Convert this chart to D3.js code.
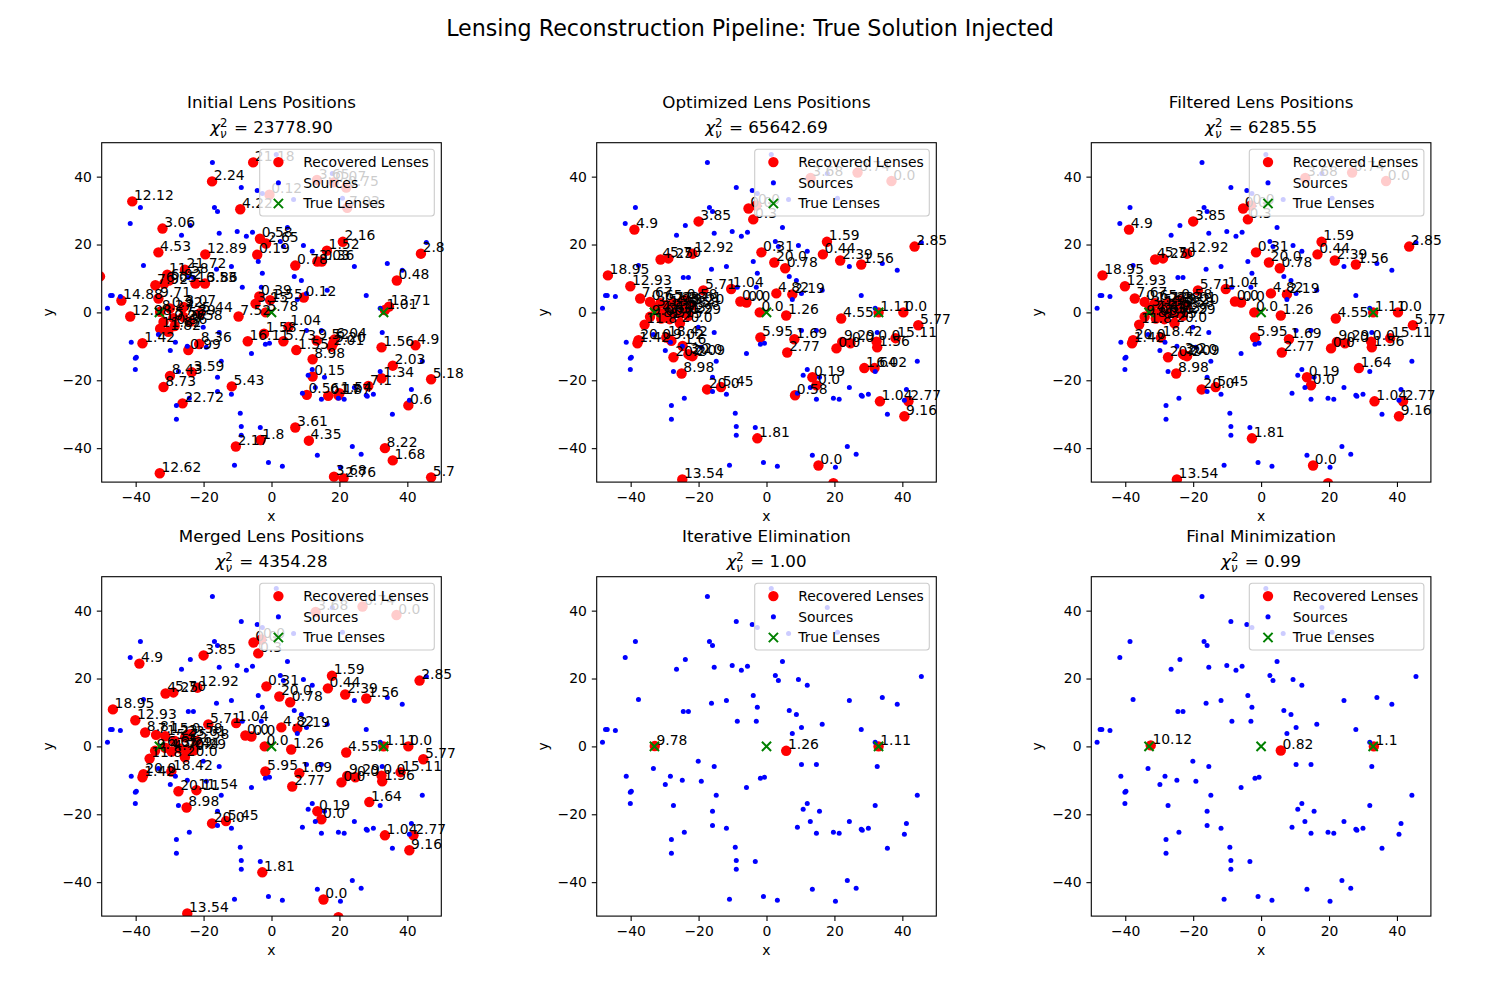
<!DOCTYPE html>
<html>
<head>
<meta charset="utf-8">
<script src="https://cdn.jsdelivr.net/npm/d3@7"></script>
<style>
  body { margin: 0; background: #fff; }
  text { font-family: "DejaVu Sans", sans-serif; fill: #000; }
</style>
</head>
<body>
<div id="chart"></div>
<script>
// background sources, same in every panel
var sources = [
  [1.4,46.5],[-17.4,44.2],[17.9,40.9],[-8.9,36.8],[2.0,38.0],[-4.2,35.9],[-2.7,35.0],[6.5,33.3],[20.9,33.6],
  [-38.6,30.9],[-16.8,30.9],[-15.9,29.7],[-41.6,26.2],[-23.9,25.6],[-26.5,22.7],[-15.4,23.3],[-10.1,23.8],
  [-5.6,23.6],[-7.4,22.4],[4.7,25.0],[2.6,20.9],[3.5,19.4],[9.4,19.7],[12.0,18.0],[45.6,20.6],[-37.7,13.8],
  [-3.9,15.0],[-11.8,13.5],[-16.2,12.7],[-2.7,11.5],[24.4,13.5],[34.1,14.4],[38.5,12.4],[-24.5,10.3],[-23.0,10.3],
  [6.7,10.6],[8.8,9.4],[-8.6,7.4],[-3.0,7.4],[16.4,6.5],[10.3,5.6],[27.9,5.0],[-47.4,5.0],[-46.9,5.0],[-44.5,4.7],
  [7.6,3.8],[-48.3,1.2],[32.0,1.2],[-20.1,-4.4],[-15.4,-5.9],[10.3,-5.3],[14.7,-5.3],[32.6,-5.9],[-33.3,-6.5],
  [-41.3,-8.8],[-28.3,-8.8],[-24.8,-10.0],[-19.2,-10.3],[-29.8,-11.2],[-1.8,-9.4],[-0.6,-9.1],[-5.9,-12.1],
  [-40.1,-13.5],[-39.8,-13.2],[-14.8,-14.4],[44.4,-14.4],[-40.1,-16.8],[-27.4,-17.4],[12.0,-16.8],[10.8,-18.5],
  [15.6,-19.1],[32.0,-17.4],[-15.9,-19.1],[12.9,-22.1],[24.4,-22.1],[41.2,-22.7],[-15.9,-23.3],[-11.8,-24.1],
  [9.1,-23.8],[27.9,-24.4],[28.2,-24.7],[30.0,-24.1],[-24.2,-25.3],[14.7,-25.6],[19.7,-25.3],[21.4,-25.6],
  [40.6,-25.9],[-28.0,-27.4],[35.6,-30.0],[-28.0,-31.5],[-9.2,-29.7],[-8.9,-33.6],[-3.3,-33.9],[-8.9,-36.2],
  [23.8,-39.5],[26.4,-41.8],[13.5,-42.1],[-0.9,-44.2],[-10.9,-45.0],[3.2,-45.3],[20.3,-45.6]
]

var trueLenses = [[-33,0],[0,0],[33,0]]

var initialLenses = [
  [-5.4,44.2,"21.18"],[-17.5,38.6,"2.24"],[-41,32.7,"12.12"],[-0.6,34.7,"0.12"],[13.4,39,"3.65"],[18.3,38.3,"0.07"],
  [22,36.8,"0.75"],[22.3,30.8,"7.03"],[-9.2,30.4,"4.22"],[-32.1,24.7,"3.06"],[-3.4,21.7,"0.58"],[-1.6,20.3,"2.65"],
  [21,20.8,"2.16"],[16.3,18.2,"1.52"],[-4.2,17,"0.19"],[-33.3,17.7,"4.53"],[-19.5,17.1,"12.89"],[44,17.3,"2.8"],
  [7,13.8,"0.78"],[13.5,15,"3.03"],[14.8,15,"0.36"],[36.9,9.4,"0.48"],[-25.5,12.6,"21.72"],[-30.7,11.1,"11.58"],
  [-30.2,9.4,"6.92"],[-34.2,8,"7.92"],[-31.6,8.5,"6.05"],[-22.4,8.5,"16.53"],[-19.6,8.5,"3.86"],[-50.5,10.6,"0.9"],
  [-44.2,3.5,"14.88"],[-33.3,4.1,"9.71"],[-41.6,-1.2,"12.98"],[-9.7,-1.2,"7.52"],[-1.7,0,"5.78"],[-3.6,4.7,"0.39"],
  [-4.7,2.6,"3.15"],[-0.4,3.6,"1.55"],[9.5,4.4,"0.12"],[34.6,1.7,"13.71"],[33.4,0.7,"1.01"],[5,-4.3,"1.04"],
  [-2.2,-6.3,"1.58"],[-7,-8.5,"16.11"],[3.5,-8.5,"5.73"],[7.3,-11.1,"1.55"],[13.3,-8.3,"9.52"],[18.2,-9.1,"5.20"],
  [17.7,-10.1,"2.01"],[18.5,-8,"6.04"],[12.1,-13.8,"8.98"],[12.1,-18.9,"0.15"],[-38,-9.1,"1.42"],[-21.3,-9.3,"8.36"],
  [-24.5,-11.1,"0.99"],[32.4,-10.3,"1.56"],[42.4,-9.7,"4.9"],[35.7,-15.7,"2.03"],[32.4,-19.4,"1.34"],[28.5,-21.7,"7.1"],
  [47,-19.7,"5.18"],[40.3,-27.4,"0.6"],[-29.9,-18.7,"8.43"],[-23.5,-17.6,"3.59"],[-31.8,-22,"8.73"],[-26.2,-26.8,"22.72"],
  [-11.7,-21.8,"5.43"],[10.4,-24.3,"0.56"],[16.7,-24.6,"0.17"],[20,-23.8,"1.54"],[19.7,-24.4,"1.87"],[7,-33.9,"3.61"],
  [11,-37.8,"4.35"],[-3.2,-37.6,"1.8"],[-10.5,-39.5,"2.17"],[33.4,-40,"8.22"],[35.7,-43.6,"1.68"],[-32.9,-47.4,"12.62"],
  [18.4,-48.4,"3.68"],[21.2,-48.9,"2.76"],[47,-48.6,"5.7"],
  // cluster by the left lens
  [-32.8,0.2,"8.27"],[-29.9,1.2,"0.92"],[-25.9,1.6,"3.07"],[-21,-0.2,"5.44"],[-31.8,-2.8,"10.26"],[-28.9,-1.7,"5.57"],
  [-26,-1.3,"7.39"],[-24,-2.8,"0.58"],[-32.8,-4.8,"11.82"],[-30.4,-5.7,"1.82"],[-28.5,-4,"0.36"]
]

// lenses common to the optimized, filtered and merged panels
var sharedLenses = [
  [13,39.6,"3.68"],[26.8,41.2,"0.74"],[36.8,38.7,"0.0"],[-5.3,30.6,"0.0"],[-3,31.5,"0.0"],[-3.9,27.4,"0.3"],
  [-20,26.8,"3.85"],[-38.9,24.4,"4.9"],[17.8,20.8,"1.59"],[43.6,19.4,"2.85"],[-1.5,17.7,"0.31"],[16.6,17.1,"0.44"],
  [-31.2,15.6,"4.25"],[-28.9,15.9,"5.70"],[-21.8,17.3,"12.92"],[2.3,14.7,"20.0"],[5.5,13,"0.78"],[21.7,15.3,"2.39"],
  [27.9,14.1,"1.56"],[-46.7,10.9,"18.95"],[-40.1,7.7,"12.93"],[-18.6,6.5,"5.71"],[-10.4,6.9,"1.04"],[-7.7,3.2,"0.0"],
  [-5.9,2.9,"0.0"],[2.9,5.6,"4.82"],[7.6,5.3,"2.19"],[-2,0,"0.0"],[5.8,-0.9,"1.26"],[22,-1.8,"4.55"],[33,0,"1.11"],
  [40.3,0,"0.0"],[44.7,-3.8,"5.77"],[-35.9,-3.6,"11.8"],[-25.5,-3.2,"20.0"],[-37.7,-8.2,"20.0"],[-38,-9.1,"1.42"],
  [-29.5,-7.4,"18.42"],[-25,-18,"8.98"],[-17.5,-22.7,"20.0"],[-13.4,-22,"5.45"],[-1.8,-7.4,"5.95"],[8.2,-7.9,"1.69"],
  [6.1,-11.8,"2.77"],[20.6,-10.6,"0.0"],[22.3,-8.7,"9.29"],[24.7,-9.1,"0.0"],[32.4,-8.6,"0.0"],[32.6,-10.3,"1.56"],
  [38,-7.6,"15.11"],[28.8,-16.4,"1.64"],[13.5,-19.1,"0.19"],[14.7,-21.5,"0.0"],[33.4,-26.2,"1.04"],[41.8,-26.2,"2.77"],
  [40.6,-30.6,"9.16"],[-2.7,-37.1,"1.81"],[15.3,-45.1,"0.0"],[-24.8,-49.2,"13.54"],[19.7,-50.3,"0.0"]
]

var denseCluster = [
  [-37.2,4.1,"7.67"],[-34.3,3.1,"0.65"],[-32.8,1.3,"3.15"],[-31.3,2.7,"1.23"],[-29.4,2.1,"5.93"],[-27.5,2.7,"7.18"],
  [-25.4,2.7,"23.01"],[-24,3.6,"0.58"],[-23.5,1.2,"5.58"],[-22,2.1,"9.20"],[-34.3,-1.3,"9.06"],[-31.3,-0.2,"4.44"],
  [-29.4,-0.7,"2.11"],[-27.5,-0.4,"6.73"],[-25.4,-0.5,"3.29"],[-23,-1,"0.29"],[-31,-1.8,"8.31"],[-28.5,-2,"1.75"]
]
var fitCluster = [
  [-28,-8.4,"9.02"],[-24.7,-9.9,"1.6"],[-27.4,-13.2,"20.2"],[-23,-12.3,"3.2"],[-21.8,-12.9,"2.09"],[-22.6,-12.6,"20.0"]
]
var mergedCluster = [
  [-37.2,4.1,"8.81"],[-34,3.4,"7.15"],[-31.3,3,"1.23"],[-28.5,1.6,"5.7"],[-25.4,2.7,"23.01"],[-24,3.6,"0.58"],
  [-22,1.6,"5.58"],[-34.3,-1.3,"9.4"],[-31.3,-0.4,"6.65"],[-29.4,-1.5,"4.70"],[-27,-0.6,"3.29"],[-25,-1,"7.44"],
  [-23,-1.2,"0.29"],[-27.4,-13.2,"20.11"],[-22.1,-12.9,"11.54"]
]

var optimizedLenses = sharedLenses.concat(denseCluster, fitCluster, [[31.8,-16.4,"6.02"],[8.4,-24.4,"0.58"]])
var filteredLenses = sharedLenses.concat(denseCluster, fitCluster.slice(2))
var mergedLenses = sharedLenses.concat(mergedCluster)
var iterativeLenses = [[-32.9,0.1,"9.78"],[5.8,-1.3,"1.26"],[33,0,"1.11"]]
var finalLenses = [[-32.5,0.3,"10.12"],[5.8,-1.2,"0.82"],[33.2,0,"1.1"]]

var panelTitles = ["Initial Lens Positions","Optimized Lens Positions","Filtered Lens Positions","Merged Lens Positions","Iterative Elimination","Final Minimization"]
var chiValues = ["23778.90","65642.69","6285.55","4354.28","1.00","0.99"]
var panelLenses = [initialLenses, optimizedLenses, filteredLenses, mergedLenses, iterativeLenses, finalLenses]
var tickValues = [-40,-20,0,20,40]
var legendLabels = ["Recovered Lenses","Sources","True Lenses"]

var plotWidth = 339.6, plotHeight = 339.4
var lefts = [101.7, 596.7, 1091.3]
var tops = [142.7, 576.7]

var svg = d3.select("#chart")
  .append("svg")
    .attr("width", 1500)
    .attr("height", 1000)
    .style("display", "block")

svg.append("text")
  .attr("x", 750)
  .attr("y", 36)
  .attr("text-anchor", "middle")
  .style("font-size", "22.2px")
  .text("Lensing Reconstruction Pipeline: True Solution Injected")

var x = d3.scaleLinear().domain([-50, 50]).range([0, plotWidth])
var y = d3.scaleLinear().domain([-50, 50]).range([plotHeight, 0])

function crossPath(size) {
  return "M" + (-size) + "," + (-size) + "L" + size + "," + size + "M" + (-size) + "," + size + "L" + size + "," + (-size)
}

function drawPanel(i) {
  var g = svg.append("g")
    .attr("transform", "translate(" + lefts[i % 3] + "," + tops[Math.floor(i / 3)] + ")")

  var clipId = "clip" + i
  g.append("clipPath").attr("id", clipId)
    .append("rect")
      .attr("width", plotWidth)
      .attr("height", plotHeight)

  var marks = g.append("g").attr("clip-path", "url(#" + clipId + ")")

  marks.selectAll("circle.lens")
    .data(panelLenses[i])
    .enter()
    .append("circle")
      .attr("class", "lens")
      .attr("cx", function(d) { return x(d[0]) })
      .attr("cy", function(d) { return y(d[1]) })
      .attr("r", 5.2)
      .attr("fill", "#ff0000")

  marks.selectAll("circle.source")
    .data(sources)
    .enter()
    .append("circle")
      .attr("class", "source")
      .attr("cx", function(d) { return x(d[0]) })
      .attr("cy", function(d) { return y(d[1]) })
      .attr("r", 2.5)
      .attr("fill", "#0000ff")

  marks.selectAll("path.truth")
    .data(trueLenses)
    .enter()
    .append("path")
      .attr("class", "truth")
      .attr("transform", function(d) { return "translate(" + x(d[0]) + "," + y(d[1]) + ")" })
      .attr("d", crossPath(4.6))
      .attr("fill", "none")
      .attr("stroke", "#008000")
      .attr("stroke-width", 2)

  // labels of lenses outside the limits are not drawn, the rest may run past the frame
  g.selectAll("text.lens-label")
    .data(panelLenses[i].filter(function(d) { return Math.abs(d[0]) <= 50 && Math.abs(d[1]) <= 50 }))
    .enter()
    .append("text")
      .attr("class", "lens-label")
      .attr("x", function(d) { return x(d[0]) + 1.7 })
      .attr("y", function(d) { return y(d[1]) - 1.5 })
      .style("font-size", "13.9px")
      .text(function(d) { return d[2] })

  g.append("g")
    .attr("transform", "translate(0," + plotHeight + ")")
    .call(d3.axisBottom(x).tickValues(tickValues).tickSize(4.9).tickPadding(4.9).tickSizeOuter(0))
  g.append("g")
    .call(d3.axisLeft(y).tickValues(tickValues).tickSize(4.9).tickPadding(4.9).tickSizeOuter(0))

  g.selectAll(".domain").remove()
  g.selectAll(".tick line").attr("stroke", "#000").attr("stroke-width", 1.1)
  g.selectAll(".tick text").style("font-size", "13.9px").style("font-family", "'DejaVu Sans', sans-serif")

  g.append("rect")
    .attr("width", plotWidth)
    .attr("height", plotHeight)
    .attr("fill", "none")
    .attr("stroke", "#000")
    .attr("stroke-width", 1.1)

  g.append("text")
    .attr("x", plotWidth / 2)
    .attr("y", plotHeight + 39)
    .attr("text-anchor", "middle")
    .style("font-size", "13.9px")
    .text("x")

  g.append("text")
    .attr("transform", "translate(-49," + (plotHeight / 2) + ") rotate(-90)")
    .attr("text-anchor", "middle")
    .style("font-size", "13.9px")
    .text("y")

  g.append("text")
    .attr("x", plotWidth / 2)
    .attr("y", -35)
    .attr("text-anchor", "middle")
    .style("font-size", "16.7px")
    .text(panelTitles[i])

  // chi squared line, sub and superscript done with tspans
  var chi = g.append("text")
    .attr("x", plotWidth / 2)
    .attr("y", -10)
    .attr("text-anchor", "middle")
    .style("font-size", "16.7px")
  chi.append("tspan").style("font-style", "italic").text("\u03c7")
  chi.append("tspan").attr("dy", -6).style("font-size", "11.7px").text("2")
  chi.append("tspan").attr("dx", -7.4).attr("dy", 11).style("font-size", "11.7px").style("font-style", "italic").text("\u03bd")
  chi.append("tspan").attr("dx", 2).attr("dy", -5).text(" = " + chiValues[i])

  drawLegend(g)
}

function drawLegend(g) {
  var legend = g.append("g").attr("transform", "translate(" + (plotWidth - 181.6) + ",6.6)")

  legend.append("rect")
    .attr("width", 174.6)
    .attr("height", 66.7)
    .attr("rx", 3)
    .attr("fill", "#fff")
    .attr("fill-opacity", 0.8)
    .attr("stroke", "#ccc")
    .attr("stroke-width", 1.1)

  var rowY = [12.8, 33.5, 54.2]

  legend.append("circle").attr("cx", 18.7).attr("cy", rowY[0]).attr("r", 5.2).attr("fill", "#ff0000")
  legend.append("circle").attr("cx", 18.7).attr("cy", rowY[1]).attr("r", 2.5).attr("fill", "#0000ff")
  legend.append("path")
    .attr("transform", "translate(18.7," + rowY[2] + ")")
    .attr("d", crossPath(4.6))
    .attr("fill", "none")
    .attr("stroke", "#008000")
    .attr("stroke-width", 2)

  legend.selectAll("text.legend-label")
    .data(legendLabels)
    .enter()
    .append("text")
      .attr("class", "legend-label")
      .attr("x", 43.5)
      .attr("y", function(d, j) { return rowY[j] + 4.8 })
      .style("font-size", "13.9px")
      .text(function(d) { return d })
}

d3.range(6).forEach(drawPanel)
</script>
</body>
</html>
